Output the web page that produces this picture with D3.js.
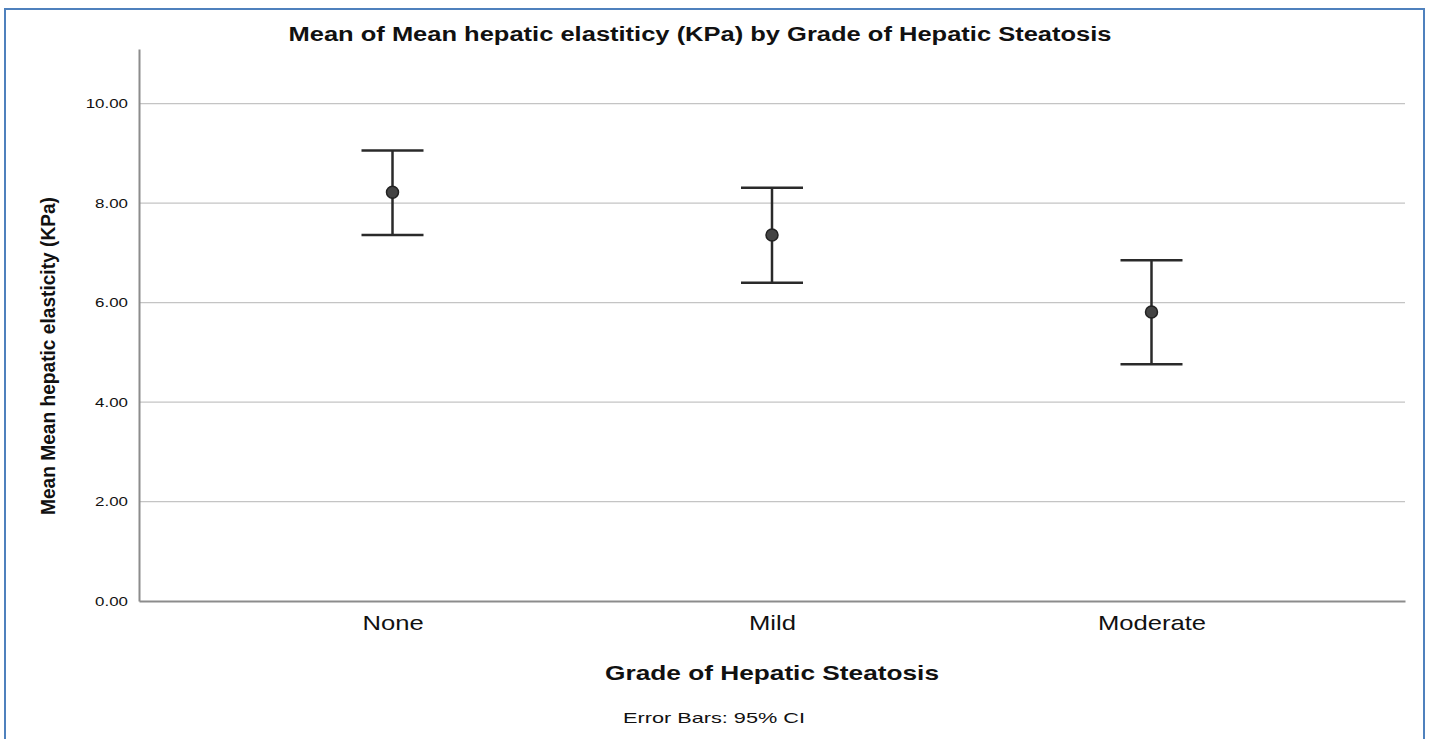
<!DOCTYPE html>
<html>
<head>
<meta charset="utf-8">
<script src="https://cdn.jsdelivr.net/npm/d3@7"></script>
<style>
  body { margin: 0; background: #fff; }
  text { font-family: "Liberation Sans", Arial, sans-serif; fill: #111; }
</style>
</head>
<body>
<svg width="1430" height="739"></svg>
<script>
const categories = ['None', 'Mild', 'Moderate'];
const means = [8.22, 7.36, 5.81];
const lower = [7.36, 6.40, 4.76];
const upper = [9.06, 8.31, 6.85];
const yTicks = [0, 2, 4, 6, 8, 10];

const svg = d3.select('svg');
const width = +svg.attr('width');
const height = +svg.attr('height');

const margin = { top: 49, right: 25, bottom: 138, left: 139 };
const innerWidth = width - margin.left - margin.right;
const innerHeight = height - margin.top - margin.bottom;

const data = categories.map((c, i) => ({ cat: c, mean: means[i], lo: lower[i], hi: upper[i] }));

// the source picture has slightly wide glyphs, so stretch text a bit
const stretch = (sel, k) => sel.each(function () {
  const len = this.getComputedTextLength();
  d3.select(this).attr('textLength', len * k).attr('lengthAdjust', 'spacingAndGlyphs');
});

// outer frame
svg.append('rect')
  .attr('x', 5).attr('y', 9)
  .attr('width', 1419).attr('height', 760)
  .attr('fill', 'none')
  .attr('stroke', '#4f81bd')
  .attr('stroke-width', 2);

const xScale = d3.scalePoint().domain(categories).range([0, innerWidth]).padding(0.668);
const yScale = d3.scaleLinear().domain([0, 11.1]).range([innerHeight, 0]);

const g = svg.append('g').attr('transform', `translate(${margin.left},${margin.top})`);

// gridlines
g.selectAll('.grid').data(yTicks.filter(d => d > 0))
  .enter().append('line')
  .attr('x1', 0).attr('x2', innerWidth)
  .attr('y1', d => yScale(d)).attr('y2', d => yScale(d))
  .attr('stroke', '#c4c4c4').attr('stroke-width', 1.2);

// y axis
const yAxis = g.append('g').call(d3.axisLeft(yScale).tickValues(yTicks).tickFormat(d3.format('.2f')).tickSize(0).tickPadding(11));
yAxis.select('.domain').attr('stroke', '#8c8c8c').attr('stroke-width', 2);
yAxis.selectAll('text').style('font-size', '13px').attr('fill', '#222').call(stretch, 1.3);

// x axis
const xAxis = g.append('g').attr('transform', `translate(0,${innerHeight})`)
  .call(d3.axisBottom(xScale).tickSize(0).tickPadding(14));
xAxis.select('.domain').attr('stroke', '#8c8c8c').attr('stroke-width', 2);
xAxis.selectAll('text').style('font-size', '21px').attr('fill', '#222').call(stretch, 1.22);

// error bars
const capW = 31;
const bars = g.selectAll('.bar').data(data).enter().append('g');
bars.append('line')
  .attr('x1', d => xScale(d.cat)).attr('x2', d => xScale(d.cat))
  .attr('y1', d => yScale(d.hi)).attr('y2', d => yScale(d.lo))
  .attr('stroke', '#2a2a2a').attr('stroke-width', 2.5);
bars.append('line')
  .attr('x1', d => xScale(d.cat) - capW).attr('x2', d => xScale(d.cat) + capW)
  .attr('y1', d => yScale(d.hi)).attr('y2', d => yScale(d.hi))
  .attr('stroke', '#2a2a2a').attr('stroke-width', 2.5);
bars.append('line')
  .attr('x1', d => xScale(d.cat) - capW).attr('x2', d => xScale(d.cat) + capW)
  .attr('y1', d => yScale(d.lo)).attr('y2', d => yScale(d.lo))
  .attr('stroke', '#2a2a2a').attr('stroke-width', 2.5);
bars.append('circle')
  .attr('cx', d => xScale(d.cat)).attr('cy', d => yScale(d.mean))
  .attr('r', 6)
  .attr('fill', '#444').attr('stroke', '#222').attr('stroke-width', 1.5);

// titles
svg.append('text')
  .attr('x', 700).attr('y', 41)
  .attr('text-anchor', 'middle')
  .attr('textLength', 823).attr('lengthAdjust', 'spacingAndGlyphs')
  .style('font-size', '20px').style('font-weight', 'bold')
  .text('Mean of Mean hepatic elastiticy (KPa) by Grade of Hepatic Steatosis');

svg.append('text')
  .attr('transform', 'translate(55,356) rotate(-90)')
  .attr('text-anchor', 'middle')
  .attr('textLength', 318).attr('lengthAdjust', 'spacingAndGlyphs')
  .style('font-size', '21px').style('font-weight', 'bold')
  .text('Mean Mean hepatic elasticity (KPa)');

svg.append('text')
  .attr('x', 772).attr('y', 680)
  .attr('text-anchor', 'middle')
  .attr('textLength', 334).attr('lengthAdjust', 'spacingAndGlyphs')
  .style('font-size', '21px').style('font-weight', 'bold')
  .text('Grade of Hepatic Steatosis');

svg.append('text')
  .attr('x', 714).attr('y', 723)
  .attr('text-anchor', 'middle')
  .attr('textLength', 182).attr('lengthAdjust', 'spacingAndGlyphs')
  .style('font-size', '15px')
  .text('Error Bars: 95% CI');
</script>
</body>
</html>
